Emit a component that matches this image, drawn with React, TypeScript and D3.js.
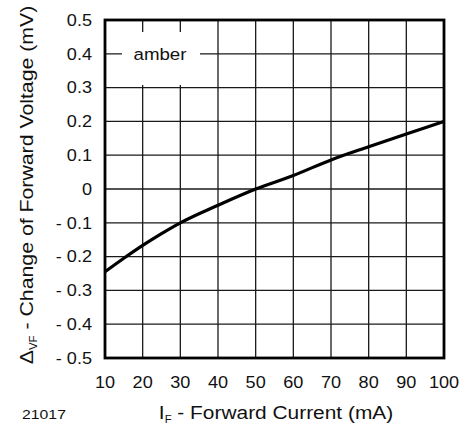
import React from "react";
import * as d3 from "d3";

// forward current (mA) vs change of forward voltage (mV)
const currents = [10, 15, 20, 25, 30, 40, 50, 60, 70, 80, 90, 100];
const deltaVf = [-0.245, -0.205, -0.167, -0.132, -0.1, -0.048, 0.0, 0.04, 0.086, 0.125, 0.163, 0.2];

const xTicks = [10, 20, 30, 40, 50, 60, 70, 80, 90, 100];
const yTicks = [0.5, 0.4, 0.3, 0.2, 0.1, 0, -0.1, -0.2, -0.3, -0.4, -0.5];

const W = 462;
const H = 424;
const margin = { left: 105, right: 18, top: 20, bottom: 66 };

const fmtY = (v: number) => {
  if (v === 0) return "0";
  return v < 0 ? `- ${Math.abs(v).toFixed(1)}` : v.toFixed(1);
};

// the original lettering is wider than Arial, so stretch it along the baseline
const WIDE = 1.13;

const App: React.FC = () => {
  const x = d3.scaleLinear().domain([10, 100]).range([margin.left, W - margin.right]);
  const y = d3.scaleLinear().domain([-0.5, 0.5]).range([H - margin.bottom, margin.top]);

  const points = currents.map((c, i) => [c, deltaVf[i]] as [number, number]);
  const line = d3
    .line<[number, number]>()
    .x(d => x(d[0]))
    .y(d => y(d[1]))
    .curve(d3.curveMonotoneX);

  const font = "Liberation Sans, Arial, sans-serif";
  const x0 = x(10), x1 = x(100), y0 = y(-0.5), y1 = y(0.5);

  return (
    <div style={{ position: "absolute", left: 0, top: 0 }}>
      <svg width={W} height={H} style={{ display: "block", background: "#fff" }} fontFamily={font} fill="#111">
        {/* grid */}
        <g stroke="#1a1a1a" strokeWidth={1.3}>
          {xTicks.slice(1, -1).map(t => (
            <line key={"gx" + t} x1={x(t)} x2={x(t)} y1={y1} y2={y0} />
          ))}
          {yTicks.slice(1, -1).map(t => (
            <line key={"gy" + t} x1={x0} x2={x1} y1={y(t)} y2={y(t)} />
          ))}
        </g>

        {/* legend box */}
        <rect x={122} y={32} width={78} height={53} fill="#fff" />
        <g transform={`translate(160,60) scale(1.1,1)`}>
          <text textAnchor="middle" fontSize={17}>amber</text>
        </g>

        {/* curve */}
        <path d={line(points) || ""} fill="none" stroke="#000" strokeWidth={3.2} strokeLinejoin="round" />

        {/* frame */}
        <rect x={x0} y={y1} width={x1 - x0} height={y0 - y1} fill="none" stroke="#000" strokeWidth={2.8} />

        {/* y ticks */}
        {yTicks.map(t => (
          <g key={"ty" + t} transform={`translate(92,${y(t)}) scale(${WIDE},1)`}>
            <text dy="0.36em" textAnchor="end" fontSize={16}>{fmtY(t)}</text>
          </g>
        ))}

        {/* x ticks */}
        {xTicks.map(t => (
          <g key={"tx" + t} transform={`translate(${x(t)},388) scale(${WIDE},1)`}>
            <text textAnchor="middle" fontSize={16}>{t}</text>
          </g>
        ))}

        {/* x label */}
        <g transform={`translate(276,419) scale(${WIDE},1)`}>
          <text textAnchor="middle" fontSize={18.5}>
            I<tspan fontSize={10} dy={4}>F</tspan>
            <tspan dy={-4}> - Forward Current (mA)</tspan>
          </text>
        </g>

        {/* y label */}
        <g transform={`translate(33,185) rotate(-90) scale(1.15,1)`}>
          <text textAnchor="middle" fontSize={18.5}>
            Δ<tspan fontSize={10} dy={4}>VF</tspan>
            <tspan dy={-4}> - Change of Forward Voltage (mV)</tspan>
          </text>
        </g>

        <g transform={`translate(22,419) scale(1.17,1)`}>
          <text fontSize={13.5}>21017</text>
        </g>
      </svg>
    </div>
  );
};

export default App;
